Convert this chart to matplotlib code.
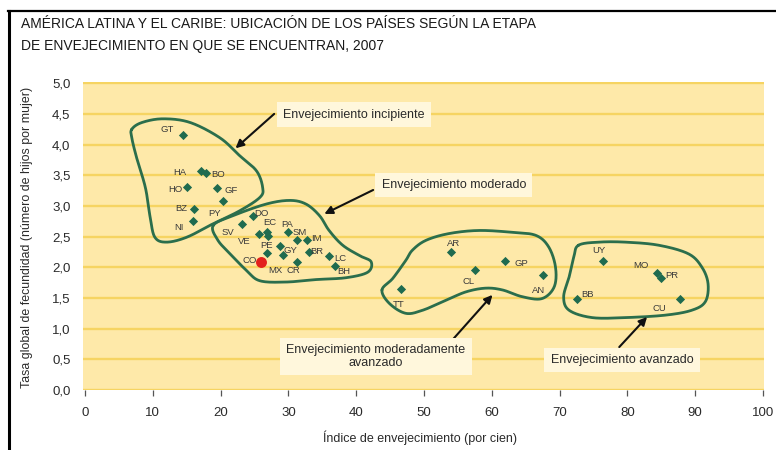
import numpy as np
import matplotlib
matplotlib.use("Agg")
import matplotlib.pyplot as plt
from matplotlib.lines import Line2D

# ---------------- data ----------------
countries = ["GT", "HA", "BO", "HO", "GF", "PY", "BZ", "NI",
             "DO", "SV", "VE", "EC", "", "PA", "SM", "IM", "GY", "MX", "PE",
             "BR", "LC", "BH", "CR",
             "AR", "GP", "CL", "AN", "TT",
             "UY", "MO", "PR", "BB", "CU"]
aging_index = [14.4, 17.1, 17.8, 15.1, 19.5, 20.3, 16.1, 15.9,
               24.8, 23.1, 25.6, 26.8, 27.0, 30.0, 31.3, 32.8, 28.8, 29.2, 26.8,
               33.1, 36.0, 36.8, 31.3,
               54.0, 62.0, 57.5, 67.6, 46.6,
               76.4, 84.3, 85.0, 72.6, 87.7]
fertility = [4.16, 3.57, 3.53, 3.31, 3.29, 3.08, 2.95, 2.76,
             2.84, 2.70, 2.55, 2.58, 2.51, 2.58, 2.44, 2.44, 2.35, 2.20, 2.23,
             2.25, 2.18, 2.02, 2.09,
             2.25, 2.11, 1.95, 1.87, 1.64,
             2.10, 1.91, 1.83, 1.48, 1.49]
highlight_country = "CO"
highlight_x = [26.0]
highlight_y = [2.08]

x_ticks = [0, 10, 20, 30, 40, 50, 60, 70, 80, 90, 100]
y_ticks = [0.0, 0.5, 1.0, 1.5, 2.0, 2.5, 3.0, 3.5, 4.0, 4.5, 5.0]
y_tick_labels = ["0,0", "0,5", "1,0", "1,5", "2,0", "2,5", "3,0", "3,5", "4,0", "4,5", "5,0"]

title_lines = ["AMÉRICA LATINA Y EL CARIBE: UBICACIÓN DE LOS PAÍSES SEGÚN LA ETAPA",
               "DE ENVEJECIMIENTO EN QUE SE ENCUENTRAN, 2007"]
x_label = "Índice de envejecimiento (por cien)"
y_label = "Tasa global de fecundidad (número de hijos por mujer)"

stage_names = ["Envejecimiento incipiente", "Envejecimiento moderado",
               "Envejecimiento moderadamente\navanzado", "Envejecimiento avanzado"]

# ---------------- group outlines (hand-drawn blobs) ----------------
blob_incipiente = [(6.9, 4.25), (8.4, 4.36), (11.5, 4.42), (15.5, 4.36), (19.9, 4.11),
                   (22.8, 3.82), (25.3, 3.57), (26.2, 3.30), (25.8, 3.14), (22.8, 2.92),
                   (18.9, 2.71), (15.0, 2.49), (12.0, 2.41), (10.3, 2.49), (9.6, 2.82),
                   (8.9, 3.30), (7.6, 3.79), (6.9, 4.11)]
blob_moderado = [(18.9, 2.68), (21.8, 2.84), (26.7, 3.03), (30.2, 3.09), (32.6, 3.03),
                 (34.6, 2.84), (36.0, 2.60), (38.0, 2.36), (40.5, 2.19), (42.2, 2.09),
                 (41.7, 1.92), (38.5, 1.83), (34.1, 1.80), (29.7, 1.76), (25.8, 1.78),
                 (23.8, 1.95), (21.4, 2.22), (19.6, 2.44)]
blob_mod_avanzado = [(43.8, 1.63), (45.4, 1.82), (47.3, 2.11), (48.3, 2.28), (50.3, 2.44),
                     (53.7, 2.55), (58.1, 2.60), (63.0, 2.57), (66.5, 2.52), (68.4, 2.33),
                     (69.4, 2.00), (69.2, 1.68), (67.4, 1.49), (64.5, 1.52), (61.6, 1.63),
                     (59.1, 1.66), (56.2, 1.60), (53.2, 1.46), (49.8, 1.30), (47.3, 1.25),
                     (44.9, 1.41)]
blob_avanzado = [(72.8, 2.36), (75.8, 2.41), (79.7, 2.41), (84.6, 2.36), (89.0, 2.22),
                 (91.0, 2.00), (91.9, 1.73), (91.5, 1.44), (89.5, 1.30), (85.6, 1.22),
                 (79.7, 1.18), (74.8, 1.18), (71.4, 1.30), (70.6, 1.52), (71.4, 1.84),
                 (72.1, 2.17)]

# ---------------- styling ----------------
BG = "#fee9a9"
GRID = "#f6d462"
GREEN = "#1f6b4f"
OUTLINE = "#2b6e4c"
BOX = "#fff7dc"
TEXT = "#2a2a2a"

label_offsets = {  # pixels
    "GT": (-15, 5), "HA": (-21, -2), "BO": (12, -1), "HO": (-12, -3), "GF": (14, -2),
    "PY": (-8, -12), "BZ": (-13, 1), "NI": (-14, -7),
    "DO": (8, 2), "SV": (-14, -8), "VE": (-14, -8), "EC": (3, 9), "": (0, 0),
    "PA": (-1, 7), "SM": (2, 8), "IM": (9, 2), "GY": (10, -5), "MX": (-8, -15),
    "PE": (0, 8), "BR": (7, 0), "LC": (11, -2), "BH": (9, -5), "CR": (-4, -9),
    "AR": (2, 8), "GP": (16, -3), "CL": (-6, -11), "AN": (-5, -15), "TT": (-2, -15),
    "UY": (-4, 11), "MO": (-16, 7), "PR": (11, 2), "BB": (10, 5), "CU": (-20, -10),
    "CO": (-12, 2),
}

plt.rcParams["font.family"] = ["Liberation Sans", "DejaVu Sans"]
NARROW = ["Liberation Sans Narrow", "Liberation Sans", "DejaVu Sans"]

fig = plt.figure(figsize=(7.76, 4.5), dpi=100)
ax = fig.add_axes([83 / 776, (450 - 390) / 450, (764 - 83) / 776, (390 - 82) / 450])
ax.set_facecolor(BG)
ax.set_xlim(-0.3, 100.15)
ax.set_ylim(0, 5.02)
for s in ax.spines.values():
    s.set_visible(False)
ax.set_axisbelow(True)
ax.yaxis.grid(True, color=GRID, lw=1.7)
ax.xaxis.grid(False)

ax.set_xticks(x_ticks)
ax.set_xticklabels([str(t) for t in x_ticks], family=NARROW, fontsize=9.5, color=TEXT)
ax.set_yticks(y_ticks)
ax.set_yticklabels(y_tick_labels, family=NARROW, fontsize=9.5, color=TEXT)
ax.tick_params(axis="x", length=4, width=0.9, color="#555555", pad=8, direction="out")
ax.tick_params(axis="y", length=0, pad=9)


def smooth_closed(points, n=30):
    p = np.array(points, dtype=float)
    m = len(p)
    out = []
    for i in range(m):
        p0, p1, p2, p3 = p[(i - 1) % m], p[i], p[(i + 1) % m], p[(i + 2) % m]
        t = np.linspace(0, 1, n, endpoint=False)[:, None]
        seg = 0.5 * ((2 * p1) + (-p0 + p2) * t + (2 * p0 - 5 * p1 + 4 * p2 - p3) * t ** 2
                     + (-p0 + 3 * p1 - 3 * p2 + p3) * t ** 3)
        out.append(seg)
    out = np.vstack(out)
    return np.vstack([out, out[:1]])


for blob in [blob_incipiente, blob_moderado, blob_mod_avanzado, blob_avanzado]:
    c = smooth_closed(blob)
    ax.plot(c[:, 0], c[:, 1], color=OUTLINE, lw=2.0, zorder=3, solid_capstyle="round")

ax.scatter(aging_index, fertility, marker="D", s=22, color=GREEN, zorder=4, linewidths=0)
ax.scatter(highlight_x, highlight_y, marker="o", s=62, color="#e3211c", zorder=5, linewidths=0)

for name, x, y in zip(countries + [highlight_country], aging_index + highlight_x,
                      fertility + highlight_y):
    if not name:
        continue
    dx, dy = label_offsets[name]
    ax.annotate(name, (x, y), xytext=(dx, dy), textcoords="offset pixels",
                ha="center", va="center", fontsize=6.8, color="#3a3a3a", zorder=6,
                family=NARROW)

# stage annotation boxes with arrows
stage_text_pos = [(39.7, 4.49), (54.4, 3.34), (42.9, 0.55), (79.2, 0.49)]
arrow_from = [(27.9, 4.50), (42.5, 3.26), (54.3, 0.83), (78.8, 0.70)]
arrow_to = [(22.2, 3.94), (35.3, 2.87), (60.1, 1.55), (82.9, 1.19)]
for name, tp, af, at in zip(stage_names, stage_text_pos, arrow_from, arrow_to):
    ax.annotate("", xy=at, xytext=af,
                arrowprops=dict(arrowstyle="-|>", color="#111111", lw=1.5,
                                mutation_scale=12, shrinkA=0, shrinkB=0), zorder=6)
    ax.text(tp[0], tp[1], name, ha="center", va="center", fontsize=9, color=TEXT,
            linespacing=1.1, zorder=7,
            bbox=dict(boxstyle="square,pad=0.5", fc=BOX, ec="none"))

fig.text(420 / 776, 1 - 438 / 450, x_label, ha="center", va="center", fontsize=9,
         color=TEXT, family=NARROW)
fig.text(27 / 776, 1 - 237 / 450, y_label, ha="center", va="center", rotation=90,
         fontsize=8.9, color=TEXT)
fig.text(21 / 776, 1 - 24 / 450, title_lines[0], ha="left", va="center", fontsize=10,
         color="#1a1a1a")
fig.text(21 / 776, 1 - 46 / 450, title_lines[1], ha="left", va="center", fontsize=10,
         color="#1a1a1a")

# frame lines (left and top)
fig.add_artist(Line2D([9 / 776, 9 / 776], [0, 1 - 11 / 450], transform=fig.transFigure,
                      color="black", lw=2.2))
fig.add_artist(Line2D([8 / 776, 1], [1 - 11 / 450, 1 - 11 / 450], transform=fig.transFigure,
                      color="black", lw=1.6))

fig.savefig("out.png", dpi=100, facecolor="white")
